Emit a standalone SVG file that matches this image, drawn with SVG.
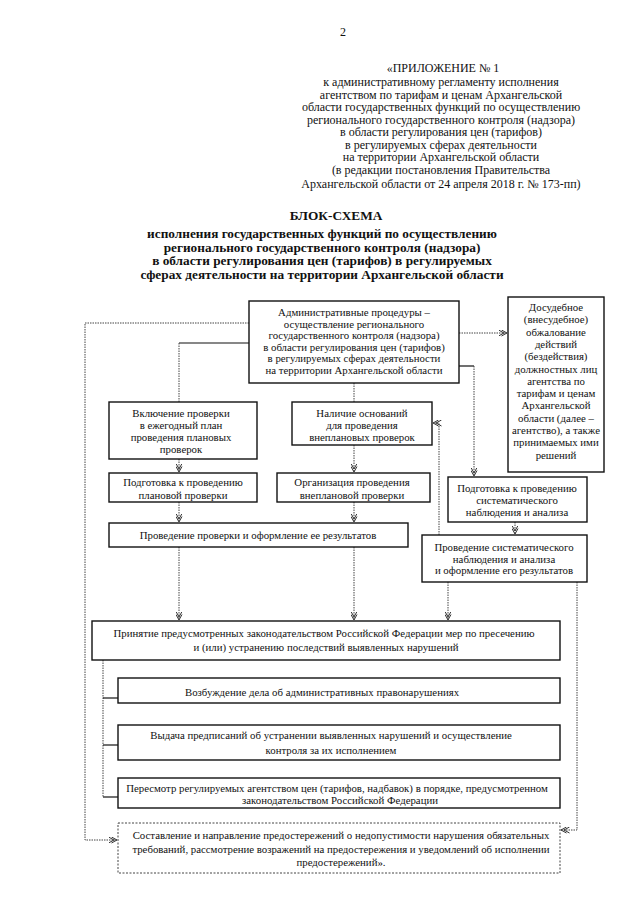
<svg xmlns="http://www.w3.org/2000/svg" width="640" height="905" viewBox="0 0 640 905">
<style>
text{font-family:"Liberation Serif","Times New Roman",serif;fill:#111}
.h{font-size:12px;text-anchor:middle}
.t{font-size:13.3px;font-weight:bold;text-anchor:middle}
.b{font-size:10.8px;text-anchor:middle}
.box{fill:#fff;stroke:#111;stroke-width:1.4}
.dbox{fill:#fff;stroke:#444;stroke-width:1;stroke-dasharray:2 1.5}
.dot{fill:none;stroke:#444;stroke-width:1;stroke-dasharray:1.5 1}
.sol{fill:none;stroke:#111;stroke-width:1.2}
</style>
<defs>
<marker id="ar" viewBox="0 0 9 7" refX="8.5" refY="3.5" markerWidth="9" markerHeight="7" markerUnits="userSpaceOnUse" orient="auto">
<path d="M3,0.5 L8.5,3.5 L3,6.5 M0,0.5 L5.5,3.5 L0,6.5" fill="none" stroke="#333" stroke-width="1"/>
</marker>
</defs>
<rect width="640" height="905" fill="#fff"/>
<text class="h" x="343" y="36">2</text>
<g id="header">
<text class="h" x="443" y="71.5">«ПРИЛОЖЕНИЕ № 1</text>
<text class="h" x="441" y="86">к административному регламенту исполнения</text>
<text class="h" x="441" y="98.5">агентством по тарифам и ценам Архангельской</text>
<text class="h" x="441" y="111">области государственных функций по осуществлению</text>
<text class="h" x="441" y="123.5">регионального государственного контроля (надзора)</text>
<text class="h" x="441" y="136">в области регулирования цен (тарифов)</text>
<text class="h" x="441" y="148.5">в  регулируемых сферах деятельности</text>
<text class="h" x="441" y="161">на территории Архангельской области</text>
<text class="h" x="441" y="173.5">(в редакции постановления Правительства</text>
<text class="h" x="441" y="187.5">Архангельской области от 24 апреля 2018 г. № 173-пп)</text>
</g>
<g id="title">
<text class="t" x="336" y="220">БЛОК-СХЕМА</text>
<text class="t" x="322" y="238">исполнения государственных функций по осуществлению</text>
<text class="t" x="322" y="251.5">регионального государственного контроля  (надзора)</text>
<text class="t" x="322" y="265">в области регулирования цен (тарифов) в регулируемых</text>
<text class="t" x="322" y="278.5">сферах деятельности на территории Архангельской области</text>
</g>
<g id="connectors">
<polyline class="dot" points="249,323 85,323 85,840 117,840" marker-end="url(#ar)"/>
<line class="dot" x1="459" y1="333" x2="507" y2="333" marker-end="url(#ar)"/>
<line class="sol" x1="459" y1="366" x2="474" y2="366"/>
<line class="dot" x1="474" y1="366" x2="474" y2="476" marker-end="url(#ar)"/>
<line class="sol" x1="249" y1="343" x2="179" y2="343"/>
<line class="dot" x1="179" y1="343" x2="179" y2="402"/>
<line class="dot" x1="354" y1="383" x2="354" y2="402"/>
<line class="dot" x1="179" y1="459" x2="179" y2="472" marker-end="url(#ar)"/>
<line class="dot" x1="354" y1="445" x2="354" y2="472" marker-end="url(#ar)"/>
<line class="dot" x1="179" y1="502" x2="179" y2="522" marker-end="url(#ar)"/>
<line class="dot" x1="354" y1="502" x2="354" y2="522" marker-end="url(#ar)"/>
<line class="dot" x1="179" y1="547" x2="179" y2="620" marker-end="url(#ar)"/>
<line class="dot" x1="354" y1="547" x2="354" y2="620" marker-end="url(#ar)"/>
<polyline class="dot" points="439,535 439,423 433,423" marker-end="url(#ar)"/>
<line class="dot" x1="515" y1="522" x2="515" y2="534" marker-end="url(#ar)"/>
<line class="dot" x1="448" y1="582" x2="448" y2="620" marker-end="url(#ar)"/>
<polyline class="dot" points="577,582 577,830 561,830" marker-end="url(#ar)"/>
<line class="dot" x1="103" y1="660" x2="103" y2="797"/>
<line class="sol" x1="103" y1="698" x2="118" y2="698"/>
<line class="sol" x1="103" y1="745" x2="118" y2="745"/>
<line class="sol" x1="103" y1="797" x2="118" y2="797"/>
</g>
<g id="n_admin">
<rect class="box" x="249" y="301" width="210" height="82"/>
<text class="b" x="354" y="316">Административные процедуры –</text>
<text class="b" x="354" y="327.5">осуществление регионального</text>
<text class="b" x="354" y="339">государственного контроля  (надзора)</text>
<text class="b" x="354" y="350.5">в области регулирования цен (тарифов)</text>
<text class="b" x="354" y="362">в регулируемых сферах деятельности</text>
<text class="b" x="354" y="373.5">на территории Архангельской области</text>
</g>
<g id="n_appeal">
<rect class="box" x="508" y="297" width="96" height="175"/>
<text class="b" x="556" y="311">Досудебное</text>
<text class="b" x="556" y="323.3">(внесудебное)</text>
<text class="b" x="556" y="335.6">обжалование</text>
<text class="b" x="556" y="347.9">действий</text>
<text class="b" x="556" y="360.2">(бездействия)</text>
<text class="b" x="556" y="372.5">должностных лиц</text>
<text class="b" x="556" y="384.8">агентства по</text>
<text class="b" x="556" y="397.1">тарифам и ценам</text>
<text class="b" x="556" y="409.4">Архангельской</text>
<text class="b" x="556" y="421.7">области (далее –</text>
<text class="b" x="556" y="434">агентство), а также</text>
<text class="b" x="556" y="446.3">принимаемых ими</text>
<text class="b" x="556" y="458.6">решений</text>
</g>
<g id="n_plan">
<rect class="box" x="109" y="402" width="148" height="57"/>
<text class="b" x="181" y="417">Включение проверки</text>
<text class="b" x="181" y="429">в ежегодный план</text>
<text class="b" x="181" y="441">проведения плановых</text>
<text class="b" x="181" y="452.5">проверок</text>
</g>
<g id="n_unplan">
<rect class="box" x="292" y="402" width="140" height="43"/>
<text class="b" x="362" y="417">Наличие оснований</text>
<text class="b" x="362" y="429">для проведения</text>
<text class="b" x="362" y="441">внеплановых проверок</text>
</g>
<g id="n_prep_plan">
<rect class="box" x="109" y="473" width="148" height="29"/>
<text class="b" x="183" y="486">Подготовка к проведению</text>
<text class="b" x="183" y="498.5">плановой проверки</text>
</g>
<g id="n_org_unplan">
<rect class="box" x="277" y="473" width="153" height="29"/>
<text class="b" x="352" y="486">Организация проведения</text>
<text class="b" x="352" y="498.5">внеплановой проверки</text>
</g>
<g id="n_conduct">
<rect class="box" x="109" y="523" width="299" height="24"/>
<text class="b" x="258" y="538.5">Проведение проверки и оформление ее результатов</text>
</g>
<g id="n_prep_obs">
<rect class="box" x="448" y="477" width="139" height="45"/>
<text class="b" x="517" y="492">Подготовка к проведению</text>
<text class="b" x="517" y="504">систематического</text>
<text class="b" x="517" y="516">наблюдения и анализа</text>
</g>
<g id="n_obs">
<rect class="box" x="422" y="535" width="165" height="47"/>
<text class="b" x="504" y="551">Проведение систематического</text>
<text class="b" x="504" y="562.5">наблюдения и анализа</text>
<text class="b" x="504" y="574">и оформление его результатов</text>
</g>
<g id="n_measures">
<rect class="box" x="92" y="621" width="468" height="39"/>
<text class="b" x="324" y="637">Принятие предусмотренных законодательством Российской Федерации мер по пресечению</text>
<text class="b" x="326" y="651">и (или) устранению последствий выявленных нарушений</text>
</g>
<g id="n_case">
<rect class="box" x="118" y="678" width="442" height="25"/>
<text class="b" x="322" y="695.5">Возбуждение дела об административных правонарушениях</text>
</g>
<g id="n_orders">
<rect class="box" x="118" y="725" width="442" height="35"/>
<text class="b" x="331" y="739">Выдача предписаний об устранении выявленных нарушений и осуществление</text>
<text class="b" x="331" y="753.5">контроля за их исполнением</text>
</g>
<g id="n_prices">
<rect class="box" x="118" y="778" width="442" height="30"/>
<text class="b" x="337" y="791.5">Пересмотр регулируемых агентством цен (тарифов, надбавок) в порядке, предусмотренном</text>
<text class="b" x="340" y="804">законодательством Российской Федерации</text>
</g>
<g id="n_warnings">
<rect class="dbox" x="118" y="823" width="442" height="50"/>
<text class="b" x="341" y="839">Составление и направление предостережений о недопустимости нарушения обязательных</text>
<text class="b" x="341" y="852.5">требований, рассмотрение возражений на предостережения и уведомлений об исполнении</text>
<text class="b" x="341" y="866">предостережений».</text>
</g>
</svg>
